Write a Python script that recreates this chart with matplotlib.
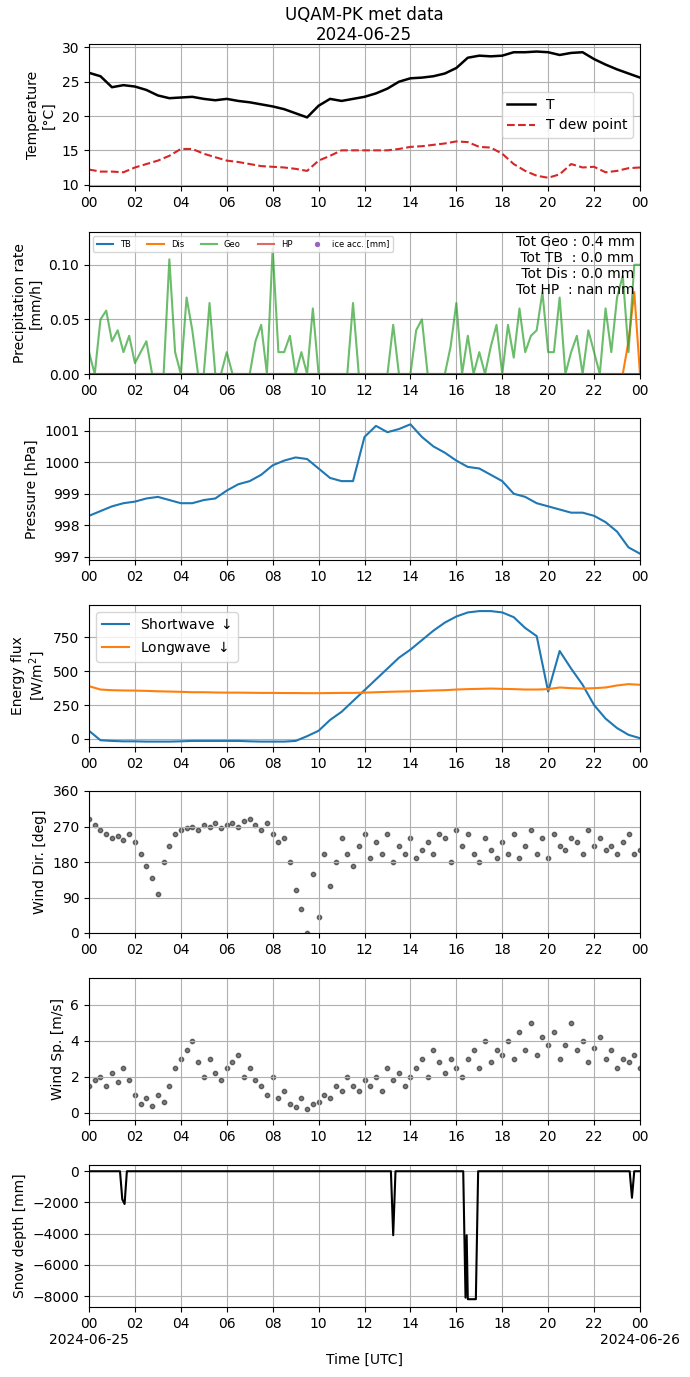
import numpy as np
import matplotlib
matplotlib.use("Agg")
import matplotlib.pyplot as plt

# half-hourly series, 00:00 .. 24:00
t_half = np.arange(49) * 0.5
temp = [26.3, 25.8, 24.2, 24.5, 24.3, 23.8, 23.0, 22.6, 22.7, 22.8, 22.5, 22.3, 22.5, 22.2, 22.0, 21.7,
        21.4, 21.0, 20.4, 19.8, 21.5, 22.5, 22.2, 22.5, 22.8, 23.3, 24.0, 25.0, 25.5, 25.6, 25.8, 26.2,
        27.0, 28.5, 28.8, 28.7, 28.8, 29.3, 29.3, 29.4, 29.3, 28.9, 29.2, 29.3, 28.3, 27.5, 26.8, 26.2, 25.6]
dew = [12.2, 11.9, 11.9, 11.8, 12.5, 13.0, 13.5, 14.2, 15.2, 15.2, 14.5, 14.0, 13.5, 13.3, 13.0, 12.7,
       12.6, 12.5, 12.3, 12.0, 13.5, 14.2, 15.0, 15.0, 15.0, 15.0, 15.0, 15.2, 15.5, 15.6, 15.8, 16.0,
       16.3, 16.2, 15.5, 15.4, 14.5, 13.0, 12.0, 11.3, 11.0, 11.5, 13.0, 12.5, 12.6, 11.8, 12.0, 12.4, 12.5]
pres = [998.3, 998.45, 998.6, 998.7, 998.75, 998.85, 998.9, 998.8, 998.7, 998.7, 998.8, 998.85, 999.1,
        999.3, 999.4, 999.6, 999.9, 1000.05, 1000.15, 1000.1, 999.8, 999.5, 999.4, 999.4, 1000.8, 1001.15,
        1000.95, 1001.05, 1001.2, 1000.8, 1000.5, 1000.3, 1000.05, 999.85, 999.8, 999.6, 999.4, 999.0,
        998.9, 998.7, 998.6, 998.5, 998.4, 998.4, 998.3, 998.1, 997.8, 997.3, 997.1]
sw = [60, -10, -15, -18, -18, -20, -20, -20, -18, -15, -15, -15, -15, -15, -18, -20, -20, -20, -15, 20,
      60, 140, 200, 280, 360, 440, 520, 600, 660, 730, 800, 860, 905, 935, 945, 945, 935, 900, 820, 760,
      350, 650, 520, 400, 250, 150, 80, 30, 5]
lw = [390, 365, 360, 358, 357, 355, 352, 350, 348, 345, 345, 343, 342, 342, 341, 340, 340, 339, 339, 338,
      338, 339, 340, 340, 342, 345, 348, 350, 352, 355, 358, 360, 365, 368, 370, 372, 370, 368, 365, 365,
      368, 380, 375, 372, 375, 380, 395, 405, 400]

# 15-minute series
t_q = np.arange(97) * 0.25
geo = [0.02, 0.0, 0.05, 0.058, 0.03, 0.04, 0.02, 0.035, 0.01, 0.02, 0.03, 0.0, 0.0, 0.0, 0.105, 0.02,
       0.0, 0.07, 0.04, 0.0, 0.0, 0.065, 0.0, 0.0, 0.02, 0.0, 0.0, 0.0, 0.0, 0.03, 0.045, 0.0,
       0.115, 0.02, 0.02, 0.035, 0.0, 0.02, 0.0, 0.06, 0.0, 0.0, 0.0, 0.0, 0.0, 0.0, 0.065, 0.0,
       0.0, 0.0, 0.0, 0.0, 0.0, 0.045, 0.0, 0.0, 0.0, 0.04, 0.05, 0.0, 0.0, 0.0, 0.0, 0.025,
       0.065, 0.0, 0.035, 0.0, 0.02, 0.0, 0.025, 0.045, 0.0, 0.045, 0.015, 0.06, 0.02, 0.035, 0.04, 0.075,
       0.02, 0.02, 0.07, 0.0, 0.02, 0.035, 0.0, 0.04, 0.02, 0.0, 0.06, 0.02, 0.07, 0.09, 0.02, 0.1, 0.1]
dis = [0.0] * 94 + [0.03, 0.075, 0.0]
wdir = [290, 275, 260, 250, 240, 245, 235, 250, 230,
        200, 170, 140, 100, 180, 220, 250, 260,
        265, 270, 260, 275, 270, 280, 265, 275,
        280, 270, 285, 290, 275, 260, 280, 250,
        230, 240, 180, 110, 60, 0, 150, 40,
        200, 120, 180, 240, 200, 170, 220, 250,
        190, 230, 200, 250, 180, 220, 200, 240,
        190, 210, 230, 200, 250, 240, 180, 260,
        220, 250, 200, 180, 240, 210, 190, 230,
        200, 250, 190, 220, 260, 200, 240, 190,
        250, 220, 210, 240, 230, 200, 260, 220,
        240, 210, 220, 200, 230, 250, 200, 210]
wsp = [1.5, 1.8, 2.0, 1.5, 2.2, 1.7, 2.5, 1.8, 1.0,
       0.5, 0.8, 0.4, 1.0, 0.6, 1.5, 2.5, 3.0,
       3.5, 4.0, 2.8, 2.0, 3.0, 2.2, 1.8, 2.5,
       2.8, 3.2, 2.0, 2.5, 1.8, 1.5, 1.0, 2.0,
       0.8, 1.2, 0.5, 0.3, 0.8, 0.2, 0.5, 0.6,
       1.0, 0.8, 1.5, 1.2, 2.0, 1.5, 1.2, 1.8,
       1.5, 2.0, 1.2, 2.5, 1.8, 2.2, 1.5, 2.0,
       2.5, 3.0, 2.0, 3.5, 2.8, 2.2, 3.0, 2.5,
       2.0, 3.0, 3.5, 2.5, 4.0, 2.8, 3.5, 3.2,
       4.0, 3.0, 4.5, 3.5, 5.0, 3.2, 4.2, 3.8,
       4.5, 3.0, 3.8, 5.0, 3.5, 4.0, 2.8, 3.6,
       4.2, 3.0, 3.5, 2.5, 3.0, 2.8, 3.2, 2.5]

snow_t = [0, 1.35, 1.45, 1.55, 1.65, 13.15, 13.25, 13.35, 16.3, 16.4, 16.45, 16.5, 16.55, 16.85, 16.95,
          23.55, 23.65, 23.75, 24]
snow_v = [0, 0, -1800, -2100, 0, 0, -4100, 0, 0, -8100, -4100, -8200, -8200, -8200, 0, 0, -1700, 0, 0]

xticks = np.arange(0, 25, 2)
xlabels = ["%02d" % (h % 24) for h in xticks]

fig = plt.figure(figsize=(6.9, 13.77), dpi=100)
H = 1377.0
tops = [44, 232, 418, 605, 791, 978, 1165]
axes = []
for tp in tops:
    ax = fig.add_axes([89 / 690, 1 - (tp + 142) / H, 551 / 690, 142 / H])
    ax.set_xlim(0, 24)
    ax.set_xticks(xticks)
    ax.set_xticklabels(xlabels)
    ax.grid(True)
    axes.append(ax)

fig.text(364 / 690, 1 - 25 / H, "UQAM-PK met data\n2024-06-25", ha="center", va="center", fontsize=12)

ax = axes[0]
ax.plot(t_half, temp, "k-", lw=1.8, label="T")
ax.plot(t_half, dew, "--", color="tab:red", lw=1.5, label="T dew point")
ax.set_ylim(9.8, 30.5)
ax.set_yticks([10, 15, 20, 25, 30])
ax.set_ylabel("Temperature\n[°C]")
ax.legend(loc="center right", bbox_to_anchor=(1.0, 0.5))

ax = axes[1]
ax.plot([], [], color="tab:blue", label="TB")
ax.plot(t_q, dis, color="tab:orange", label="Dis")
ax.plot(t_q, geo, color="tab:green", alpha=0.7, label="Geo")
ax.plot([], [], color="tab:red", alpha=0.7, label="HP")
ax.plot(t_q, np.zeros(97), color="tab:blue")
ax.scatter([], [], s=8, color="tab:purple", label="ice acc. [mm]")
ax.set_ylim(0, 0.13)
ax.set_ylabel("Precipitation rate\n[mm/h]")
ax.legend(loc="upper left", ncol=5, fontsize=6)
ax.text(0.99, 0.98, "Tot Geo : 0.4 mm\n Tot TB  : 0.0 mm\n Tot Dis : 0.0 mm\nTot HP  : nan mm",
        transform=ax.transAxes, ha="right", va="top", fontsize=10)

ax = axes[2]
ax.plot(t_half, pres, color="tab:blue")
ax.set_ylim(996.9, 1001.4)
ax.set_ylabel("Pressure [hPa]")

ax = axes[3]
ax.plot(t_half, sw, color="tab:blue", label="Shortwave $\\downarrow$")
ax.plot(t_half, lw, color="tab:orange", label="Longwave $\\downarrow$")
ax.set_ylim(-60, 990)
ax.set_yticks([0, 250, 500, 750])
ax.set_ylabel("Energy flux\n[W/m$^2$]")
ax.legend(loc="upper left")

ax = axes[4]
ax.scatter(t_q, wdir, s=10, color="k", alpha=0.5)
ax.set_ylim(0, 360)
ax.set_yticks([0, 90, 180, 270, 360])
ax.set_ylabel("Wind Dir. [deg]")

ax = axes[5]
ax.scatter(t_q, wsp, s=10, color="k", alpha=0.5)
ax.set_ylim(-0.4, 7.5)
ax.set_ylabel("Wind Sp. [m/s]")

ax = axes[6]
ax.plot(snow_t, snow_v, "k-")
ax.set_ylim(-8700, 400)
ax.set_ylabel("Snow depth [mm]")
lab = list(xlabels)
lab[0] = "00\n2024-06-25"
lab[-1] = "00\n2024-06-26"
ax.set_xticklabels(lab)
ax.set_xlabel("Time [UTC]")

fig.savefig("out.png", dpi=100)
